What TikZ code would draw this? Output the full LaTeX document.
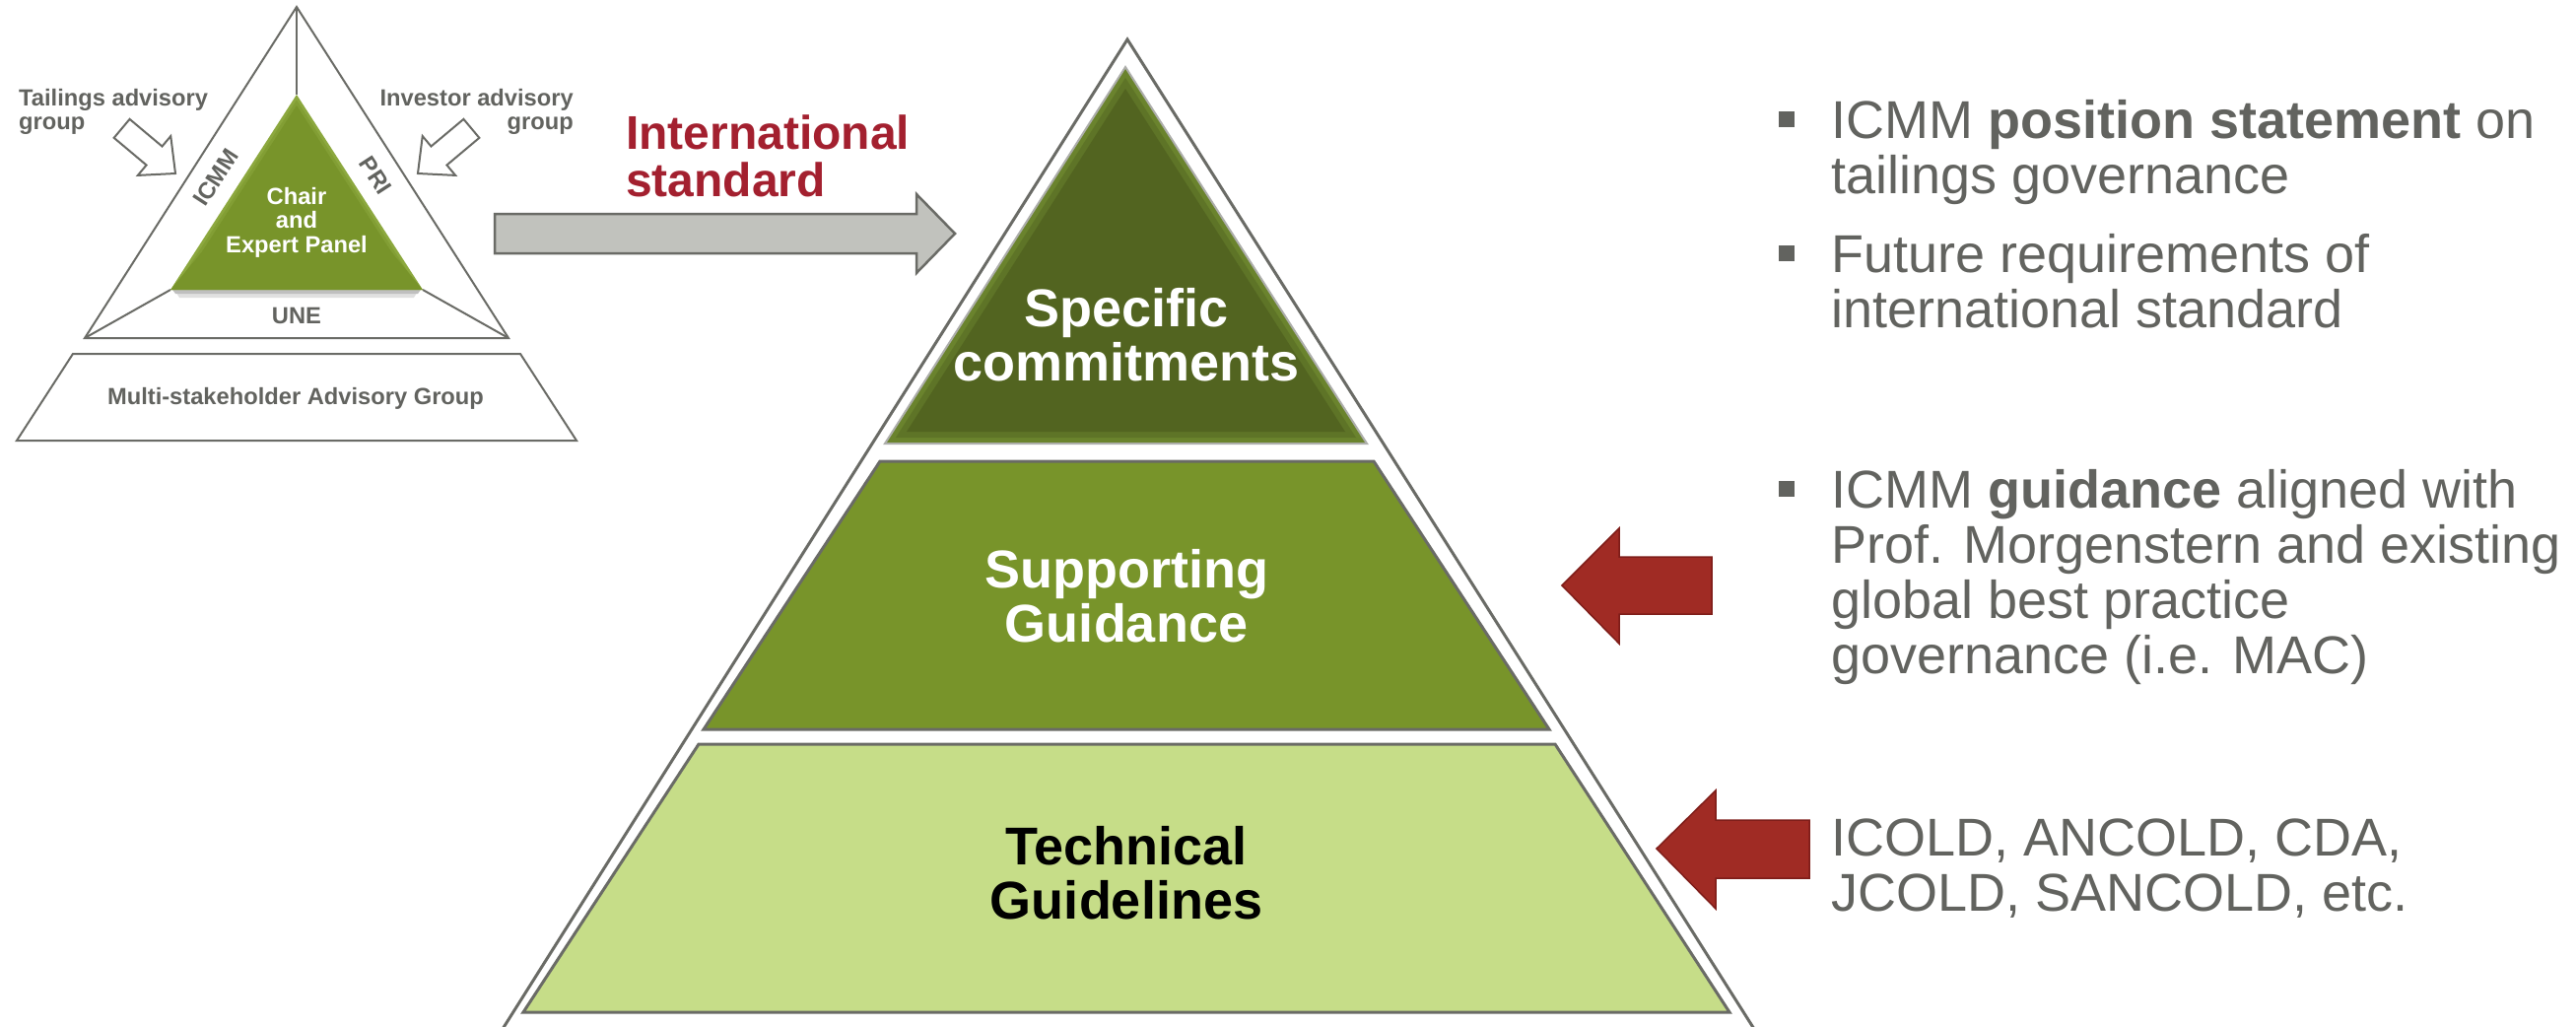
\documentclass[tikz,border=0pt]{standalone}
\usepackage{fontspec}
\setmainfont{Liberation Sans}
\usetikzlibrary{positioning}

\definecolor{tierdark}{HTML}{526420}
\definecolor{tierbevel}{HTML}{6A832D}
\definecolor{tiermid}{HTML}{78942A}
\definecolor{tierlight}{HTML}{C6DD88}
\definecolor{panelgreen}{HTML}{78942A}
\definecolor{panelbevel}{HTML}{8CA83E}
\definecolor{linegray}{HTML}{6A6B66}
\definecolor{txtgray}{HTML}{62635F}
\definecolor{stdred}{HTML}{A3202F}
\definecolor{arrowred}{HTML}{A02B24}
\definecolor{arrowredline}{HTML}{7E1D19}
\definecolor{arrowgray}{HTML}{C1C2BD}

\begin{document}
\begin{tikzpicture}[x=1pt,y=-1pt,
    tier/.style={draw=linegray, line width=3pt, line join=miter},
    thin outline/.style={draw=linegray, line width=2pt, line join=miter},
    tierlabel/.style={font=\bfseries\fontsize{54}{55}\selectfont, align=center, inner sep=0},
    smalllabel/.style={font=\bfseries\fontsize{23.7}{24.6}\selectfont, text=txtgray, inner sep=0},
    notetext/.style={font=\fontsize{54}{56}\selectfont, text=txtgray, align=left, anchor=west, inner sep=0},
    sqbullet/.style={fill=txtgray, minimum size=16pt, inner sep=0},
    hollow arrow/.style={thin outline, fill=white},
    red arrow/.style={fill=arrowred, draw=arrowredline, line width=1.5pt}]
  \useasboundingbox (0,0) rectangle (2614,1041);

  % small governance triangle
  \draw[thin outline] (301,7) -- (516,343) -- (86,343) -- cycle;
  \draw[thin outline] (301,7) -- (301,96);
  \draw[thin outline] (173,294) -- (86,343);
  \draw[thin outline] (429,294) -- (516,343);
  \fill[black!12] (177,294) -- (425,294) -- (420,302) -- (182,302) -- cycle;
  \fill[black!25] (175,294) -- (427,294) -- (424,298) -- (178,298) -- cycle;
  \fill[panelbevel] (301,96) -- (429,294) -- (173,294) -- cycle;
  \fill[panelbevel!50!panelgreen] (301,101.5) -- (423.5,291) -- (178.5,291) -- cycle;
  \fill[panelgreen] (301,107) -- (418,288) -- (184,288) -- cycle;
  \fill[panelgreen] (301,140) -- (429,294) -- (173,294) -- cycle;

  \node[smalllabel, text=white, align=center] (panel) at (301,225.5) {Chair\\and\\Expert Panel};
  \node[smalllabel] (une) at (301,320) {UNE};
  \node[smalllabel] (icmm) at (219,180) [rotate=57] {ICMM};
  \node[smalllabel] (pri) at (381,178) [rotate=-57] {PRI};
  \draw[thin outline] (74,359) -- (528,359) -- (585,447) -- (17,447) -- cycle;
  \node[smalllabel] (masg) at (300,404) {Multi-stakeholder Advisory Group};
  \node[smalllabel, align=left, anchor=west] (tag) at (19,113.4) {Tailings advisory\\group};
  \node[smalllabel, align=right, anchor=east] (iag) at (582,113.4) {Investor advisory\\group};

  \begin{scope}[shift={(178,176)}, rotate=-40]
    \draw[hollow arrow] (0,0) -- (-28,-26) -- (-28,-12.4) -- (-71,-12.4)
      -- (-71,12.4) -- (-28,12.4) -- (-28,26) -- cycle;
  \end{scope}
  \begin{scope}[shift={(424,176)}, rotate=-140]
    \draw[hollow arrow] (0,0) -- (-28,-26) -- (-28,-12.4) -- (-71,-12.4)
      -- (-71,12.4) -- (-28,12.4) -- (-28,26) -- cycle;
  \end{scope}

  % arrow to the pyramid
  \draw[fill=arrowgray, draw=linegray, line width=2.5pt, line join=miter]
    (502,217) -- (930,217) -- (930,197) -- (969,237) -- (930,277) -- (930,257) -- (502,257) -- cycle;
  \node[font=\bfseries\fontsize{48}{48}\selectfont, text=stdred, align=left, anchor=west, inner sep=0]
    (std) at (635,158.5) {International\\standard};

  % pyramid
  \draw[draw=linegray, line width=3pt, line join=miter] (510,1044) -- (1144,40) -- (1780,1044);
  \fill[tierbevel] (1142,68) -- (1387,450) -- (898,450) -- cycle;
  \fill[tierbevel!50!tierdark] (1142,79) -- (1376,444) -- (909,444) -- cycle;
  \fill[tierdark] (1142,90) -- (1365,438) -- (920,438) -- cycle;
  \draw[tier, draw=linegray!55, line width=2pt] (1142,68) -- (1387,450) -- (898,450) -- cycle;
  \draw[tier, fill=tiermid] (893,468) -- (1394,468) -- (1572,740) -- (714,740) -- cycle;
  \draw[tier, fill=tierlight] (709,755) -- (1578,755) -- (1755,1027) -- (531,1027) -- cycle;

  \node[tierlabel, text=white] (spec) at (1143,340) {Specific\\commitments};
  \node[tierlabel, text=white] (supp) at (1143,605) {Supporting\\Guidance};
  \node[tierlabel, text=black] (tech) at (1143,886) {Technical\\Guidelines};

  % side arrows
  \draw[red arrow] (1585,594) -- (1643,536) -- (1643,565) -- (1737,565)
    -- (1737,623) -- (1643,623) -- (1643,653) -- cycle;
  \draw[red arrow] (1681,861) -- (1741,802) -- (1741,832) -- (1836,832)
    -- (1836,891) -- (1741,891) -- (1741,922) -- cycle;

  % notes
  \node[sqbullet] (b1) at (1813,121) {};
  \node[sqbullet] (b2) at (1813,257) {};
  \node[sqbullet] (b3) at (1813,496) {};
  \node[notetext] (n1) at (1858,155) {ICMM \textbf{position statement} on\\tailings governance};
  \node[notetext] (n2) at (1858,284.8) {Future requirements of\\international standard};
  \node[notetext] (n3) at (1858,585.5) {ICMM \textbf{guidance} aligned with\\Prof. Morgenstern and existing\\global best practice\\governance (i.e. MAC)};
  \node[notetext] (n4) at (1858,881) {ICOLD, ANCOLD, CDA,\\JCOLD, SANCOLD, etc.};
\end{tikzpicture}
\end{document}
